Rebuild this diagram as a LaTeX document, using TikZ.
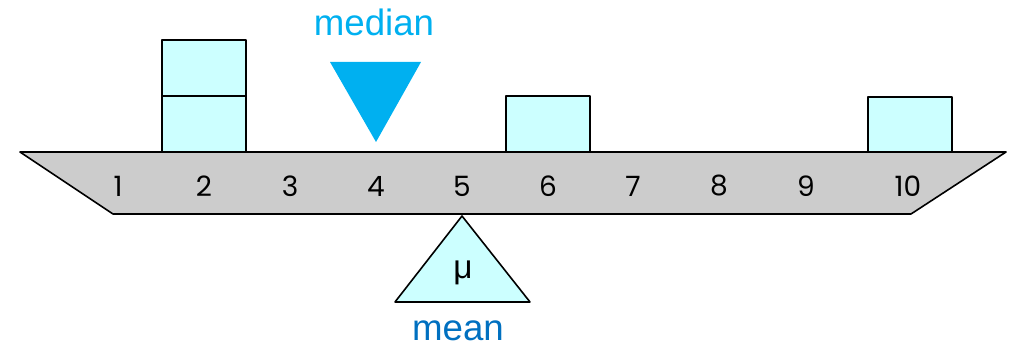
\documentclass[tikz,border=0pt]{standalone}
\usepackage{fontspec}
\setmainfont{Liberation Sans}
\newfontfamily\digitfont{Poppins}
\definecolor{beamgray}{HTML}{CCCCCC}
\definecolor{lightcyan}{HTML}{CCFFFF}
\definecolor{mediancol}{HTML}{00B0F0}
\definecolor{meancol}{HTML}{0070C0}
\tikzset{
  weight/.style={draw=black,fill=lightcyan,line width=1.2pt},
  tick label/.style={font=\digitfont\fontsize{21}{21}\selectfont},
  word/.style={font=\fontsize{27.5}{27.5}\selectfont}
}
\begin{document}
\begin{tikzpicture}[x={(0.75pt,0)},y={(0,-0.75pt)},line join=round]
	\useasboundingbox (0,0) rectangle (1020,348);
	% beam
	\draw[fill=beamgray,line width=1.2pt] (20,152)--(1006,152)--(911,214)--(113,214)--cycle;
	\foreach \n/\x in {1/118,2/204,3/290,4/376,5/462,6/548,7/633,8/719,9/806,10/908}
		\node[tick label] (n\n) at (\x,186) {\n};
	% weights
	\draw[weight] (162,96) rectangle (246,152);
	\draw[weight] (162,40) rectangle (246,96);
	\draw[weight] (506,96) rectangle (590,152);
	\draw[weight] (868,97) rectangle (952,152);
	% fulcrum
	\draw[weight] (462,216)--(530,302)--(395,302)--cycle;
	\node (mu) at (463,273) {\fontsize{25}{25}\selectfont μ};
	\node[word,text=meancol] (mean) at (458,331) {mean};
	% median marker
	\fill[mediancol] (330,62)--(421,62)--(376,142)--cycle;
	\node[word,text=mediancol] (median) at (374,22) {median};
\end{tikzpicture}
\end{document}
